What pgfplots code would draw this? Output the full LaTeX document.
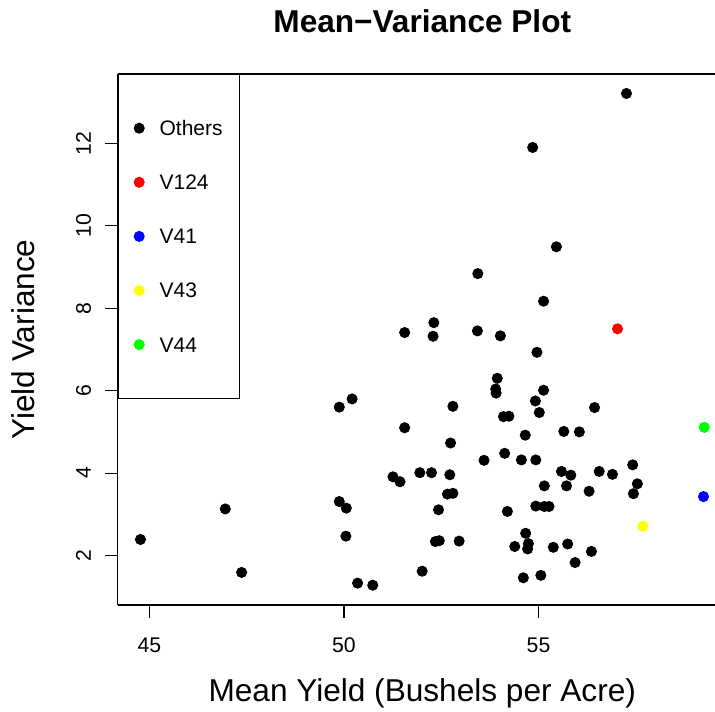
\documentclass[border=0pt]{standalone}
\usepackage{fontspec}
\setmainfont{Liberation Sans}
\usepackage{pgfplots}
\pgfplotsset{compat=1.18}
\begin{document}
\begin{tikzpicture}
\begin{axis}[
  scale only axis,
  width=298.7pt, height=265.45pt,
  xmin=44.183, xmax=59.536,
  ymin=0.80, ymax=13.68,
  axis x line*=box, axis y line*=left,
  axis line style={line width=0.6pt, black},
  tick pos=left, tick align=outside,
  major tick length=6.35pt,
  every tick/.style={line width=0.6pt, black},
  xtick={45,50,55}, ytick={2,4,6,8,10,12},
  /pgf/number format/assume math mode=true,
  tick label style={font=\fontsize{10.6}{12}\selectfont, inner sep=0pt},
  xticklabel style={anchor=north, yshift=-9.8pt},
  yticklabel style={rotate=90, anchor=base, yshift=7pt},
  xlabel={Mean Yield (Bushels per Acre)},
  ylabel={Yield Variance},
  label style={font=\fontsize{15.8}{19}\selectfont, inner sep=0pt},
  xlabel style={at={(axis description cs:0.510,0)}, anchor=base, yshift=-48pt},
  ylabel style={at={(axis description cs:0,0.5)}, anchor=base, yshift=41.3pt},
  title={Mean\textminus Variance Plot},
  title style={at={(axis description cs:0.510,1)}, anchor=base, yshift=14.9pt, inner sep=0pt, font=\bfseries\fontsize{15.8}{19}\selectfont},
  legend cell align=left,
  legend image code/.code={\pgfpathrectangle{\pgfpoint{-3pt}{-3.75pt}}{\pgfpoint{6pt}{7.5pt}}\pgfusepath{use as bounding box}\draw[#1] plot coordinates {(0pt,0pt)};},
  legend style={at={(0,1)}, anchor=north west, draw=black, line width=0.6pt, fill=white,
    inner xsep=7.5pt, inner ysep=23pt, column sep=7.2pt, row sep=19.55pt,
    font=\fontsize{10.5}{12}\selectfont,
    nodes={inner sep=0pt, text height=7.5pt, text depth=0pt},
    /tikz/every even column/.append style={text width=32.3pt}},
]
\addplot[only marks, mark=*, mark size=2.55pt, black, mark options={line width=0.4pt}] table {
x y
57.26 13.21
54.85 11.90
55.46 9.49
53.44 8.84
55.13 8.17
52.31 7.65
51.56 7.41
52.29 7.32
53.43 7.45
54.02 7.33
54.96 6.93
53.94 6.30
53.90 6.04
53.91 5.94
55.13 6.01
50.21 5.80
49.88 5.60
52.80 5.62
54.92 5.75
55.02 5.47
56.44 5.59
54.10 5.37
54.24 5.38
51.56 5.10
55.65 5.01
56.05 5.00
54.66 4.92
52.74 4.73
54.13 4.48
53.60 4.31
54.56 4.32
54.93 4.32
57.42 4.20
51.26 3.91
51.44 3.79
51.95 4.01
52.25 4.01
52.72 3.96
55.59 4.04
55.83 3.95
56.56 4.04
56.90 3.97
57.54 3.74
55.15 3.69
55.72 3.69
56.30 3.56
57.44 3.50
52.66 3.49
52.80 3.51
49.88 3.31
50.06 3.15
46.95 3.13
54.93 3.20
55.15 3.19
55.27 3.19
52.43 3.11
54.20 3.07
54.67 2.54
50.05 2.47
44.77 2.39
52.35 2.34
52.45 2.36
52.96 2.35
54.74 2.29
54.39 2.22
54.72 2.16
55.38 2.20
55.75 2.28
56.36 2.10
55.94 1.83
47.37 1.59
52.01 1.62
54.61 1.46
55.06 1.52
50.35 1.33
50.74 1.28
};
\addlegendentry{Others}
\addplot[only marks, mark=*, mark size=2.55pt, color={rgb,255:red,255;green,0;blue,0}, mark options={line width=0.4pt}] coordinates {(57.03,7.50)};
\addlegendentry{V124}
\addplot[only marks, mark=*, mark size=2.55pt, color={rgb,255:red,0;green,0;blue,255}, mark options={line width=0.4pt}] coordinates {(59.24,3.43)};
\addlegendentry{V41}
\addplot[only marks, mark=*, mark size=2.55pt, color={rgb,255:red,255;green,255;blue,0}, mark options={line width=0.4pt}] coordinates {(57.68,2.71)};
\addlegendentry{V43}
\addplot[only marks, mark=*, mark size=2.55pt, color={rgb,255:red,0;green,255;blue,0}, mark options={line width=0.4pt}] coordinates {(59.26,5.11)};
\addlegendentry{V44}
\end{axis}
\pgfresetboundingbox
\path[use as bounding box] (-58.8pt,-53pt) rectangle (298.7pt,302.5pt);
\end{tikzpicture}
\end{document}
